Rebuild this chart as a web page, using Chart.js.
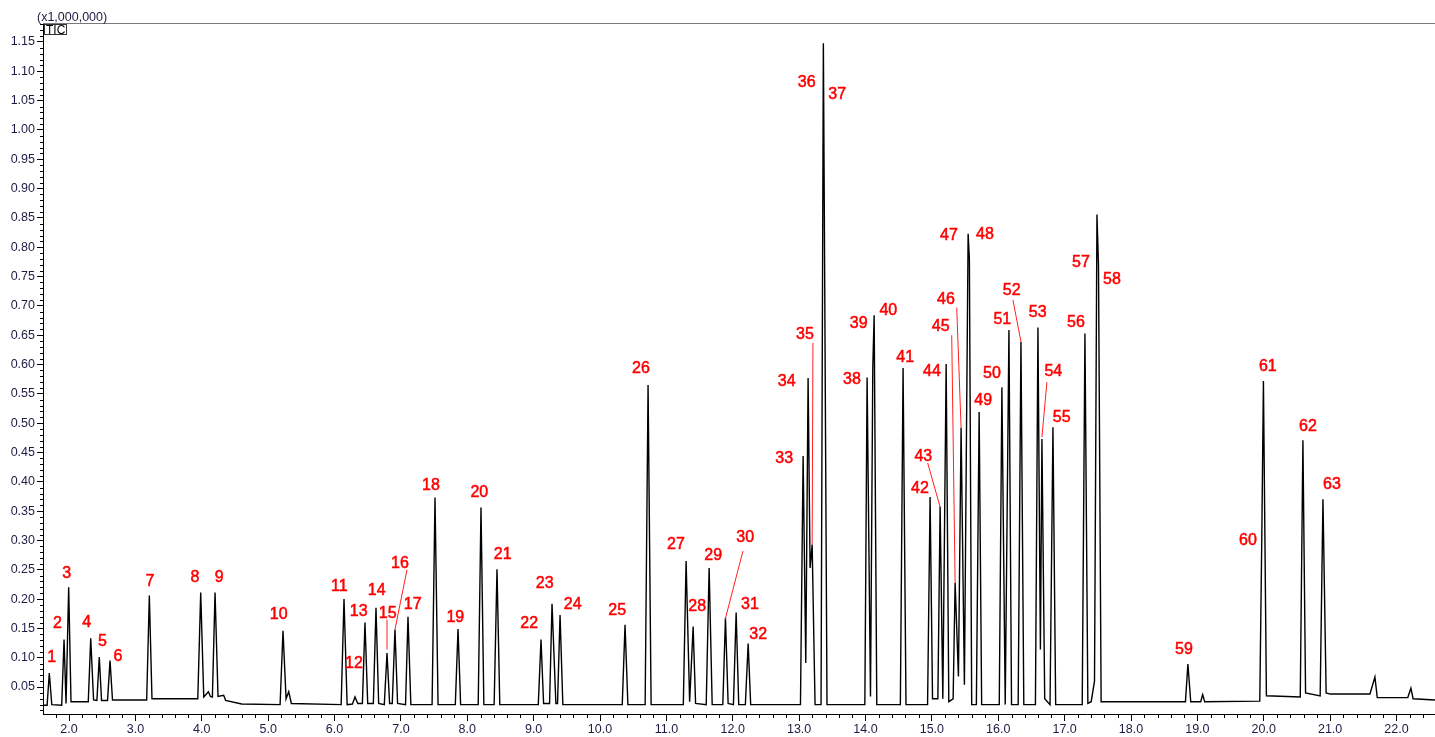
<!DOCTYPE html>
<html>
<head>
<meta charset="utf-8">
<title>TIC chromatogram</title>
<script src="https://cdn.jsdelivr.net/npm/chart.js@4.4.0/dist/chart.umd.min.js"></script>
<style>
  html, body { margin: 0; padding: 0; background: #fff; }
  canvas { display: block; }
</style>
</head>
<body>
<canvas id="tic" width="1435" height="737"></canvas>
<script>
// axis tick labels
const xTickValues = [2, 3, 4, 5, 6, 7, 8, 9, 10, 11, 12, 13, 14, 15, 16, 17, 18, 19, 20, 21, 22];
const yTickValues = [0.05, 0.10, 0.15, 0.20, 0.25, 0.30, 0.35, 0.40, 0.45, 0.50, 0.55, 0.60,
                     0.65, 0.70, 0.75, 0.80, 0.85, 0.90, 0.95, 1.00, 1.05, 1.10, 1.15];

// TIC trace, [retention time (min), intensity (x1,000,000)]
const tracePoints = [
  [1.61, 0.019], [1.67, 0.019], [1.703, 0.074], [1.74, 0.020],
  [1.89, 0.019], [1.925, 0.131], [1.955, 0.022], [1.995, 0.220], [2.03, 0.025],
  [2.29, 0.025], [2.327, 0.133], [2.37, 0.028],
  [2.42, 0.027], [2.456, 0.101], [2.49, 0.027],
  [2.58, 0.027], [2.618, 0.095], [2.655, 0.028],
  [3.17, 0.028], [3.21, 0.206], [3.25, 0.030],
  [3.94, 0.030], [3.984, 0.211], [4.03, 0.033], [4.10, 0.042], [4.13, 0.034],
  [4.16, 0.033], [4.20, 0.211], [4.245, 0.034], [4.33, 0.036], [4.36, 0.027],
  [4.60, 0.021], [5.18, 0.020], [5.224, 0.146], [5.27, 0.030], [5.31, 0.042], [5.35, 0.022],
  [6.10, 0.020], [6.143, 0.200], [6.19, 0.020],
  [6.27, 0.021], [6.309, 0.033], [6.35, 0.022],
  [6.42, 0.022], [6.459, 0.160], [6.50, 0.022],
  [6.585, 0.022], [6.625, 0.185], [6.665, 0.022],
  [6.75, 0.020], [6.791, 0.108], [6.83, 0.022],
  [6.87, 0.022], [6.911, 0.148], [6.95, 0.022],
  [7.07, 0.020], [7.107, 0.170], [7.15, 0.020],
  [7.47, 0.020], [7.514, 0.373], [7.56, 0.020],
  [7.82, 0.020], [7.861, 0.149], [7.90, 0.020],
  [8.165, 0.020], [8.207, 0.356], [8.25, 0.020],
  [8.405, 0.020], [8.448, 0.251], [8.49, 0.020],
  [9.07, 0.020], [9.111, 0.131], [9.15, 0.022],
  [9.24, 0.022], [9.277, 0.192], [9.335, 0.022],
  [9.36, 0.022], [9.398, 0.173], [9.44, 0.020],
  [10.335, 0.020], [10.377, 0.156], [10.42, 0.020],
  [10.68, 0.020], [10.724, 0.565], [10.77, 0.020],
  [11.255, 0.020], [11.297, 0.265], [11.35, 0.025], [11.403, 0.153], [11.44, 0.022],
  [11.60, 0.020], [11.644, 0.253], [11.69, 0.020],
  [11.85, 0.020], [11.89, 0.168], [11.93, 0.022],
  [12.01, 0.020], [12.051, 0.177], [12.09, 0.020],
  [12.19, 0.020], [12.232, 0.124], [12.27, 0.020],
  [13.02, 0.020], [13.06, 0.444], [13.10, 0.091], [13.135, 0.577], [13.165, 0.253], [13.196, 0.293], [13.24, 0.020],
  [13.33, 0.020], [13.365, 1.148], [13.378, 0.890], [13.42, 0.020],
  [13.99, 0.020], [14.024, 0.578], [14.075, 0.034], [14.11, 0.596], [14.13, 0.684], [14.17, 0.020],
  [14.525, 0.020], [14.566, 0.594], [14.61, 0.020],
  [14.935, 0.020], [14.973, 0.374], [15.01, 0.030], [15.09, 0.030], [15.124, 0.358], [15.165, 0.030],
  [15.215, 0.601], [15.255, 0.025],
  [15.32, 0.030], [15.35, 0.228], [15.40, 0.068], [15.44, 0.492], [15.49, 0.054],
  [15.546, 0.823], [15.565, 0.780], [15.60, 0.020],
  [15.67, 0.020], [15.712, 0.519], [15.75, 0.020],
  [16.015, 0.020], [16.055, 0.561], [16.105, 0.020], [16.161, 0.659], [16.20, 0.020],
  [16.30, 0.020], [16.342, 0.639], [16.385, 0.020],
  [16.56, 0.020], [16.598, 0.663], [16.635, 0.114], [16.658, 0.473], [16.70, 0.030],
  [16.78, 0.020], [16.824, 0.493], [16.865, 0.020],
  [17.265, 0.020], [17.306, 0.653], [17.35, 0.022],
  [17.40, 0.025], [17.45, 0.060], [17.487, 0.856], [17.51, 0.770], [17.55, 0.025],
  [18.82, 0.025], [18.857, 0.089], [18.90, 0.025],
  [19.05, 0.025], [19.08, 0.037], [19.11, 0.025],
  [19.94, 0.026], [19.97, 0.300], [19.995, 0.572], [20.04, 0.035],
  [20.55, 0.033], [20.59, 0.471], [20.63, 0.040],
  [20.85, 0.035], [20.892, 0.370], [20.94, 0.040],
  [21.00, 0.038], [21.60, 0.038], [21.675, 0.067], [21.71, 0.032],
  [22.17, 0.032], [22.217, 0.048], [22.25, 0.030],
  [22.58, 0.028]
];

// peak number labels 1..63, anchored in data units
const labelTimes = [
  1.739, 1.824, 1.965, 2.267, 2.502, 2.738, 3.220, 3.898, 4.264, 5.159,
  6.072, 6.293, 6.364, 6.635, 6.801, 6.986, 7.178, 7.453, 7.820, 8.181,
  8.534, 8.934, 9.166, 9.588, 10.260, 10.617, 11.145, 11.465, 11.706, 12.188,
  12.259, 12.384, 12.776, 12.812, 13.088, 13.113, 13.574, 13.796, 13.897, 14.343,
  14.599, 14.821, 14.871, 15.001, 15.132, 15.212, 15.257, 15.799, 15.774, 15.905,
  16.061, 16.202, 16.594, 16.829, 16.955, 17.170, 17.246, 17.713, 18.797, 19.761,
  20.062, 20.665, 21.027
];
const labelLevels = [
  0.101, 0.159, 0.244, 0.160, 0.128, 0.102, 0.230, 0.237, 0.236, 0.173,
  0.221, 0.090, 0.178, 0.215, 0.176, 0.260, 0.190, 0.393, 0.169, 0.381,
  0.275, 0.158, 0.226, 0.191, 0.181, 0.593, 0.293, 0.187, 0.274, 0.304,
  0.191, 0.139, 0.440, 0.571, 0.651, 1.081, 1.061, 0.574, 0.669, 0.692,
  0.612, 0.388, 0.443, 0.588, 0.665, 0.710, 0.819, 0.821, 0.539, 0.585,
  0.676, 0.726, 0.688, 0.588, 0.509, 0.672, 0.773, 0.744, 0.114, 0.299,
  0.596, 0.494, 0.395
];

// red leader lines from a label to its peak
const leaderStart = [[6.791, 0.165], [7.092, 0.250], [12.154, 0.282], [13.208, 0.637], [14.937, 0.432],
                     [15.299, 0.650], [15.374, 0.697], [16.221, 0.710], [16.733, 0.570]];
const leaderEnd   = [[6.791, 0.114], [6.911, 0.148], [11.885, 0.165], [13.196, 0.293], [15.124, 0.357],
                     [15.350, 0.228], [15.440, 0.492], [16.342, 0.639], [16.658, 0.476]];

const FONT = '"Liberation Sans", Arial, sans-serif';
const AXIS_TEXT = '#1c1c44';

const chromatogramDecor = {
  id: 'chromatogramDecor',
  afterDraw(chart) {
    const { ctx, chartArea, scales: { x, y } } = chart;
    ctx.save();

    // grey frame line at the top
    ctx.strokeStyle = '#7a7a7a';
    ctx.lineWidth = 1;
    ctx.beginPath();
    ctx.moveTo(chartArea.left, chartArea.top + 0.5);
    ctx.lineTo(chartArea.right, chartArea.top + 0.5);
    ctx.stroke();

    // minor ticks: 0.2 min on x, 0.01 on y
    ctx.strokeStyle = '#000';
    ctx.beginPath();
    for (let i = 9; i <= 112; i++) {
      if (i % 5 === 0) continue;
      const px = Math.round(x.getPixelForValue(i / 5)) + 0.5;
      ctx.moveTo(px, chartArea.bottom);
      ctx.lineTo(px, chartArea.bottom + 4);
    }
    for (let i = 1; i <= 118; i++) {
      if (i % 5 === 0) continue;
      const py = Math.round(y.getPixelForValue(i / 100)) + 0.5;
      ctx.moveTo(chartArea.left - 3, py);
      ctx.lineTo(chartArea.left, py);
    }
    ctx.stroke();

    // scale factor and trace name
    ctx.fillStyle = AXIS_TEXT;
    ctx.font = '12.5px ' + FONT;
    ctx.textAlign = 'left';
    ctx.textBaseline = 'alphabetic';
    ctx.fillText('(x1,000,000)', 37, 21);
    ctx.strokeStyle = '#333';
    ctx.strokeRect(44.5, 24.5, 22, 10);
    ctx.fillStyle = '#000';
    ctx.font = '12px ' + FONT;
    ctx.fillText('TIC', 46, 34);

    // leader lines
    ctx.strokeStyle = '#ff2020';
    ctx.lineWidth = 1;
    ctx.beginPath();
    leaderStart.forEach((p, i) => {
      ctx.moveTo(x.getPixelForValue(p[0]), y.getPixelForValue(p[1]));
      ctx.lineTo(x.getPixelForValue(leaderEnd[i][0]), y.getPixelForValue(leaderEnd[i][1]));
    });
    ctx.stroke();

    // peak numbers
    ctx.fillStyle = '#ff0000';
    ctx.strokeStyle = '#ff0000';
    ctx.lineWidth = 0.5;
    ctx.font = '16px ' + FONT;
    ctx.textAlign = 'center';
    ctx.textBaseline = 'middle';
    labelTimes.forEach((t, i) => {
      const px = x.getPixelForValue(t);
      const py = y.getPixelForValue(labelLevels[i]);
      ctx.fillText(String(i + 1), px, py);
      ctx.strokeText(String(i + 1), px, py);
    });
    ctx.restore();
  }
};

const ctx = document.getElementById('tic').getContext('2d');
new Chart(ctx, {
  type: 'scatter',
  data: {
    datasets: [{
      label: 'TIC',
      data: tracePoints.map(p => ({ x: p[0], y: p[1] })),
      showLine: true,
      borderColor: '#000',
      borderWidth: 1.4,
      pointRadius: 0,
      tension: 0
    }]
  },
  options: {
    responsive: false,
    animation: false,
    devicePixelRatio: 1,
    layout: { padding: { top: 23, left: 0, right: 0, bottom: 0 } },
    plugins: { legend: { display: false }, tooltip: { enabled: false } },
    scales: {
      x: {
        type: 'linear',
        min: 1.608,
        max: 22.58,
        afterBuildTicks: s => { s.ticks = xTickValues.map(v => ({ value: v })); },
        afterFit: s => { s.height = 23; s.paddingLeft = 0; s.paddingRight = 0; },
        ticks: {
          callback: v => Number(v).toFixed(1),
          font: { family: FONT, size: 12.5 },
          color: AXIS_TEXT,
          padding: 1,
          maxRotation: 0,
          autoSkip: false
        },
        grid: { drawOnChartArea: false, tickLength: 7, color: '#000' },
        border: { color: '#000', width: 1 }
      },
      y: {
        type: 'linear',
        min: 0.004,
        max: 1.1824,
        afterBuildTicks: s => { s.ticks = yTickValues.map(v => ({ value: v })); },
        afterFit: s => { s.width = 43; s.paddingTop = 0; s.paddingBottom = 0; },
        ticks: {
          callback: v => Number(v).toFixed(2),
          font: { family: FONT, size: 12.5 },
          color: AXIS_TEXT,
          padding: 2,
          autoSkip: false
        },
        grid: { drawOnChartArea: false, tickLength: 6, color: '#000' },
        border: { color: '#000', width: 1 }
      }
    }
  },
  plugins: [chromatogramDecor]
});
</script>
</body>
</html>
